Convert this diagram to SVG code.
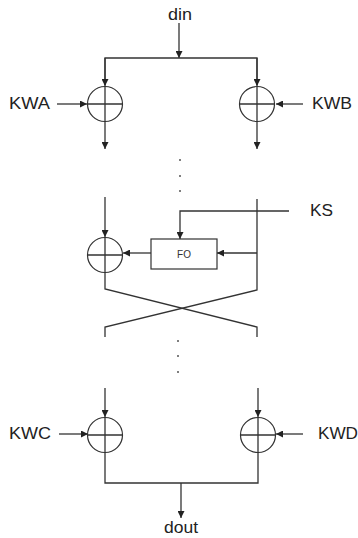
<svg xmlns="http://www.w3.org/2000/svg" width="358" height="538" viewBox="0 0 358 538">
<defs>
<marker id="ah" viewBox="0 0 10 10" refX="10" refY="5" markerWidth="7" markerHeight="7" markerUnits="userSpaceOnUse" orient="auto">
<path d="M0,0 L10,5 L0,10 z" fill="#222"/>
</marker>
</defs>
<style>
.ln{fill:none;stroke:#333;stroke-width:1.3}
.ar{fill:none;stroke:#333;stroke-width:1.3;marker-end:url(#ah)}
.xor{fill:#fff;stroke:#333;stroke-width:1.2}
.lbl{font-family:"Liberation Sans",Arial,sans-serif;font-size:16px;fill:#222}
.dot{fill:#555}
</style>
<rect width="358" height="538" fill="#fff"/>
<g id="connectors">
<line class="ar" x1="179" y1="23" x2="179" y2="58"/>
<polyline class="ln" points="105,85 105,58 257,58 257,85"/>
<line class="ar" x1="105" y1="58" x2="105" y2="86"/>
<line class="ar" x1="257" y1="58" x2="257" y2="86"/>
<line class="ar" x1="57" y1="104" x2="87" y2="104"/>
<line class="ar" x1="303" y1="104" x2="276" y2="104"/>
<line class="ar" x1="105" y1="122" x2="105" y2="149"/>
<line class="ar" x1="257" y1="122" x2="257" y2="149"/>
<line class="ar" x1="105" y1="197" x2="105" y2="237"/>
<polyline class="ln" points="257,199 257,290 105,327 105,337"/>
<polyline class="ln" points="105,272 105,289 257,327 257,337"/>
<polyline class="ar" points="289,211 180,211 180,239"/>
<line class="ar" x1="257" y1="253" x2="217" y2="253"/>
<line class="ar" x1="151" y1="253" x2="123" y2="253"/>
<line class="ar" x1="105" y1="388" x2="105" y2="417"/>
<line class="ar" x1="258" y1="388" x2="258" y2="417"/>
<line class="ar" x1="59" y1="434" x2="88" y2="434"/>
<line class="ar" x1="303" y1="434" x2="276" y2="434"/>
<polyline class="ln" points="105,452 105,483 258,483 258,452"/>
<line class="ar" x1="181" y1="483" x2="181" y2="518"/>
</g>
<g id="dots1"><circle class="dot" cx="180" cy="160" r="1"/><circle class="dot" cx="180" cy="176" r="1"/><circle class="dot" cx="180" cy="191" r="1"/></g>
<g id="dots2"><circle class="dot" cx="178" cy="341" r="1"/><circle class="dot" cx="178" cy="356" r="1"/><circle class="dot" cx="178" cy="372" r="1"/></g>
<g id="xorA"><circle class="xor" cx="105" cy="104" r="17.5"/><path class="ln" d="M87.5,104H122.5M105,86.5V121.5"/></g>
<g id="xorB"><circle class="xor" cx="257" cy="104" r="17.5"/><path class="ln" d="M239.5,104H274.5M257,86.5V121.5"/></g>
<g id="xorF"><circle class="xor" cx="105" cy="255" r="17.5"/><path class="ln" d="M87.5,255H122.5M105,237.5V272.5"/></g>
<g id="xorC"><circle class="xor" cx="105" cy="435" r="17.5"/><path class="ln" d="M87.5,435H122.5M105,417.5V452.5"/></g>
<g id="xorD"><circle class="xor" cx="258" cy="435" r="17.5"/><path class="ln" d="M240.5,435H275.5M258,417.5V452.5"/></g>
<g id="fo"><rect x="151" y="239" width="66" height="30" fill="#fff" stroke="#333" stroke-width="1.2"/><text x="184" y="258" text-anchor="middle" font-family="Liberation Sans, Arial, sans-serif" font-size="10" fill="#333">FO</text></g>
<g id="din"><text class="lbl" x="168" y="20" textLength="24" lengthAdjust="spacingAndGlyphs">din</text></g>
<g id="dout"><text class="lbl" x="164" y="533" textLength="34" lengthAdjust="spacingAndGlyphs">dout</text></g>
<g id="kwa"><text class="lbl" x="9" y="109" textLength="41" lengthAdjust="spacingAndGlyphs">KWA</text></g>
<g id="kwb"><text class="lbl" x="312" y="109" textLength="40" lengthAdjust="spacingAndGlyphs">KWB</text></g>
<g id="ks"><text class="lbl" x="310" y="216" textLength="23" lengthAdjust="spacingAndGlyphs">KS</text></g>
<g id="kwc"><text class="lbl" x="9" y="439" textLength="42" lengthAdjust="spacingAndGlyphs">KWC</text></g>
<g id="kwd"><text class="lbl" x="318" y="439" textLength="40" lengthAdjust="spacingAndGlyphs">KWD</text></g>
</svg>
